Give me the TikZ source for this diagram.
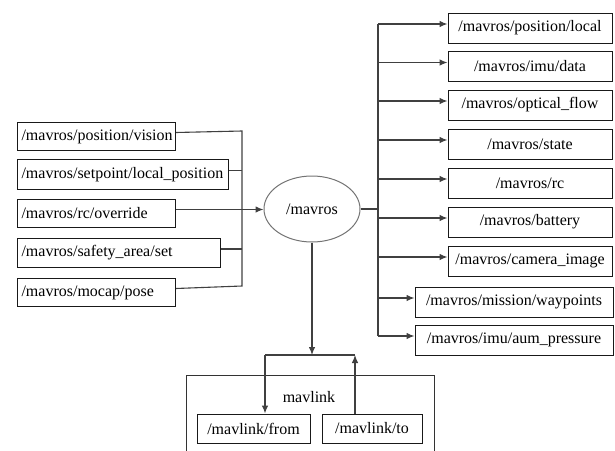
\documentclass[tikz,border=0pt]{standalone}
\usepackage{fontspec}
\setmainfont{Liberation Serif}
\usetikzlibrary{arrows.meta,shapes.geometric}
\begin{document}
\begin{tikzpicture}[x=1pt,y=-1pt,
  font=\fontsize{16}{18}\selectfont,
  lbox/.style={draw=black!90, line width=1pt, inner xsep=4pt, inner ysep=0pt, anchor=north west, align=left, minimum height=#1},
  rbox/.style={draw=black!90, line width=1pt, inner sep=0pt, minimum height=30pt, minimum width=#1},
  wire/.style={draw=black!75, line width=1.1pt},
  arr/.style={wire, -{Latex[length=8pt,width=6.5pt]}}]
\useasboundingbox (0,0) rectangle (615,450);

% left boxes
\node[lbox=28pt, text width=150pt] (v)  at (17,122) {/mavros/position/vision};
\node[lbox=30pt, text width=203pt] (s)  at (17,159) {/mavros/setpoint/local\_position};
\node[lbox=28pt, text width=150pt] (rc) at (17,199) {/mavros/rc/override};
\node[lbox=29pt, text width=195pt] (sa) at (17,238) {/mavros/safety\_area/set};
\node[lbox=28pt, text width=150pt] (mo) at (17,278) {/mavros/mocap/pose};

% central node
\node[ellipse, draw=black!55, line width=1pt, minimum width=96pt, minimum height=66pt, inner sep=0pt] (mav) at (312,209) {/mavros};

% right boxes
\node[rbox=164pt] (r1) at (530,28)  {/mavros/position/local};
\node[rbox=164pt] (r2) at (530,66.5) {/mavros/imu/data};
\node[rbox=164pt] (r3) at (530,105) {/mavros/optical\_flow};
\node[rbox=164pt] (r4) at (530,144) {/mavros/state};
\node[rbox=164pt] (r5) at (530,183) {/mavros/rc};
\node[rbox=164pt] (r6) at (530,222) {/mavros/battery};
\node[rbox=164pt] (r7) at (530,261) {/mavros/camera\_image};
\node[rbox=198pt] (r8) at (514,302) {/mavros/mission/waypoints};
\node[rbox=198pt] (r9) at (514,340) {/mavros/imu/aum\_pressure};

% mavlink group
\draw[draw=black!80, line width=1pt] (186,452) -- (186,375) -- (434,375) -- (434,452);
\node (ml) at (309,397) {mavlink};
\node[rbox=113pt, minimum height=29pt] (mf) at (253.5,428.5) {/mavlink/from};
\node[rbox=100pt, minimum height=29pt] (mt) at (372,428.5) {/mavlink/to};

% left bus
\coordinate (lbt) at (242,131);
\coordinate (lbb) at (242,286);
\path[wire] ([yshift=4pt]v.east) -- (lbt) -- (lbb) -- ([yshift=4pt]mo.east);
\path[wire] ([yshift=4pt]s.east) -- ([yshift=4pt]s.east -| lbt);
\path[wire] ([yshift=4pt]sa.east) -- ([yshift=4pt]sa.east -| lbt);
\path[arr] ([yshift=4pt]rc.east) -- ([yshift=4pt]rc.east -| mav.west);

% right bus
\coordinate (rbt) at (378,24);
\coordinate (rbb) at (378,336);
\path[wire] (rbt) -- (rbb);
\path[wire] (mav.east) -- (mav.east -| rbt);
\foreach \b in {r1,r2,r3,r4,r5,r6,r7,r8,r9}
  \path[arr] ([yshift=4pt]\b.west -| rbt) -- ([yshift=4pt]\b.west);

% bottom links
\coordinate (hl) at (265,355);
\coordinate (hr) at (355,355);
\path[wire] (hl) -- (hr);
\path[arr] (mav.south) -- (mav.south |- hl);
\path[arr] (hl) -- (hl |- mf.north);
\path[arr] (hr |- mt.north) -- (hr);
\end{tikzpicture}
\end{document}
